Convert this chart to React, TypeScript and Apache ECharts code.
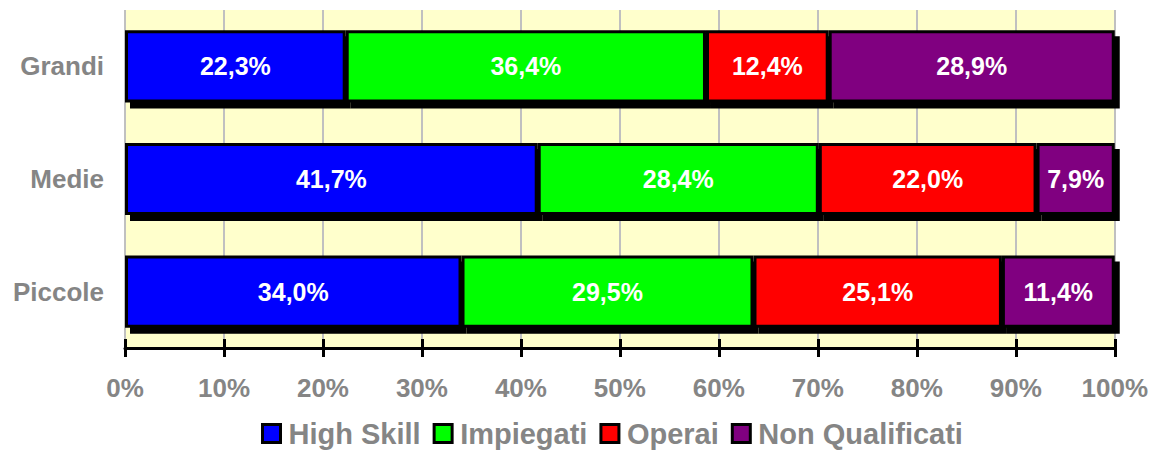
import React, { useEffect, useRef } from "react";
import * as echarts from "echarts";

const categories = ["Piccole", "Medie", "Grandi"];
const seriesNames = ["High Skill", "Impiegati", "Operai", "Non Qualificati"];
const highSkill = [34.0, 41.7, 22.3];
const impiegati = [29.5, 28.4, 36.4];
const operai = [25.1, 22.0, 12.4];
const nonQualificati = [11.4, 7.9, 28.9];
const colors = ["#0000FF", "#00FF00", "#FF0000", "#800080"];
const xTicks = [0, 10, 20, 30, 40, 50, 60, 70, 80, 90, 100];

const FONT = "'Liberation Sans', Arial, sans-serif";
const GRAY = "#858585";

export default function App() {
  const ref = useRef<HTMLDivElement>(null);
  useEffect(() => {
    if (!ref.current) return;
    const chart = echarts.init(ref.current, undefined, { renderer: "svg" });
    const allData = [highSkill, impiegati, operai, nonQualificati];
    chart.setOption({
      animation: false,
      textStyle: { fontFamily: FONT },
      grid: {
        left: 125,
        right: 36,
        top: 10,
        bottom: 102,
        show: true,
        backgroundColor: "#FFFFCC",
        borderWidth: 0,
      },
      legend: {
        top: 414,
        left: 256,
        icon: "rect",
        itemWidth: 18,
        itemHeight: 18,
        itemGap: 12,
        textStyle: { color: GRAY, fontSize: 29, fontWeight: "bold", fontFamily: FONT, padding: [0, 0, 0, 3] },
        itemStyle: { borderColor: "#000", borderWidth: 3, shadowBlur: 0, shadowOffsetX: 0, shadowOffsetY: 0, shadowColor: "transparent" },
        data: seriesNames,
      },
      xAxis: [
        {
          type: "value",
          min: xTicks[0],
          max: xTicks[xTicks.length - 1],
          interval: 10,
          axisLine: { show: true, lineStyle: { color: "#000", width: 3 } },
          axisTick: { show: true, length: 9, lineStyle: { color: "#000", width: 3 } },
          axisLabel: {
            margin: 27,
            color: GRAY,
            fontSize: 26,
            fontWeight: "bold",
            fontFamily: FONT,
            formatter: (v: number) => v + "%",
          },
          splitLine: { show: true, lineStyle: { color: "#C0C0C0", width: 2 } },
        },
        {
          type: "value",
          position: "bottom",
          min: xTicks[0],
          max: xTicks[xTicks.length - 1],
          interval: 10,
          axisLine: { show: false },
          axisTick: { show: true, inside: true, length: 9, lineStyle: { color: "#000", width: 3 } },
          axisLabel: { show: false },
          splitLine: { show: false },
        },
      ],
      yAxis: {
        type: "category",
        data: categories,
        axisLine: { show: false },
        axisTick: { show: false },
        axisLabel: {
          margin: 21,
          color: GRAY,
          fontSize: 26,
          fontWeight: "bold",
          fontFamily: FONT,
        },
      },
      series: seriesNames.map((name, i) => ({
        name,
        type: "bar",
        stack: "total",
        barWidth: "64%",
        xAxisIndex: 0,
        data: allData[i],
        itemStyle: {
          color: colors[i],
          borderColor: "#000",
          borderWidth: 3,
          shadowColor: "#000",
          shadowBlur: 0,
          shadowOffsetX: 5,
          shadowOffsetY: 6,
        },
        label: {
          show: true,
          position: "inside",
          color: "#FFFFFF",
          fontSize: 25,
          fontWeight: "bold",
          fontFamily: FONT,
          formatter: (p: any) => p.value.toFixed(1).replace(".", ",") + "%",
        },
      })),
    });
    return () => chart.dispose();
  }, []);
  return <div ref={ref} style={{ width: 1151, height: 450, position: "absolute", left: 0, top: 0 }} />;
}
